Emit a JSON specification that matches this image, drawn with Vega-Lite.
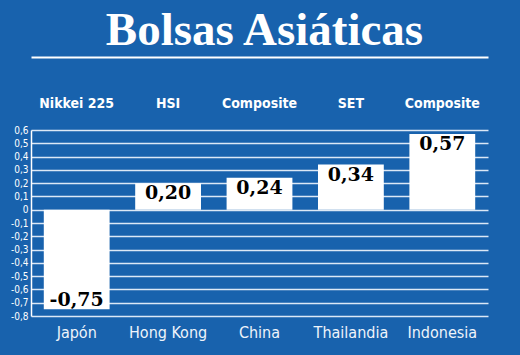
{
  "$schema": "https://vega.github.io/schema/vega-lite/v6.json",
  "width": 457,
  "height": 186,
  "autosize": {"type": "none"},
  "padding": {"left": 31, "top": 130, "right": 32, "bottom": 39},
  "background": "#1862ad",
  "title": {
    "text": "Bolsas Asiáticas",
    "font": "Liberation Serif",
    "fontSize": 47,
    "fontWeight": "bold",
    "color": "white",
    "anchor": "middle",
    "offset": 2,
    "dx": 5
  },
  "config": {
    "view": {"stroke": null},
    "locale": {"number": {"decimal": ",", "thousands": ".", "grouping": [3], "currency": ["", " €"], "minus": "-"}}
  },
  "data": {
    "values": [
      {"pais": "Japón", "indice": "Nikkei 225", "v": -0.75},
      {"pais": "Hong Kong", "indice": "HSI", "v": 0.20},
      {"pais": "China", "indice": "Composite", "v": 0.24},
      {"pais": "Thailandia", "indice": "SET", "v": 0.34},
      {"pais": "Indonesia", "indice": "Composite", "v": 0.57}
    ]
  },
  "resolve": {"axis": {"x": "independent"}},
  "encoding": {
    "y": {
      "field": "v",
      "type": "quantitative",
      "scale": {"domain": [-0.8, 0.6], "nice": false, "zero": false},
      "axis": {
        "values": [-0.8, -0.7, -0.6, -0.5, -0.4, -0.3, -0.2, -0.1, 0, 0.1, 0.2, 0.3, 0.4, 0.5, 0.6],
        "format": ".1f",
        "labelExpr": "datum.value == 0 ? '0' : replace(replace(datum.label, '.', ','), '\u2212', '-')",
        "grid": true,
        "gridColor": "#dbe8f6",
        "gridWidth": 1.3,
        "domain": true,
        "domainColor": "white",
        "domainWidth": 1.5,
        "ticks": false,
        "labelPadding": 3,
        "labelColor": "white",
        "labelFont": "DejaVu Sans Condensed, Roboto, sans-serif",
        "labelFontSize": 10,
        "title": null
      }
    }
  },
  "layer": [
    {
      "mark": {"type": "bar", "color": "white"},
      "encoding": {
        "x": {
          "field": "pais",
          "type": "nominal",
          "sort": null,
          "scale": {"paddingInner": 0.28, "paddingOuter": 0.14},
          "axis": {
            "orient": "bottom",
            "domain": false,
            "ticks": false,
            "labelPadding": 8,
            "labelAngle": 0,
            "labelFont": "DejaVu Sans Condensed, Roboto, sans-serif",
            "labelFontSize": 16,
            "labelColor": "#eef4fb",
            "labelOverlap": false,
            "title": null
          }
        }
      }
    },
    {
      "transform": [{"filter": "datum.v >= 0"}],
      "mark": {"type": "text", "baseline": "middle", "dy": 10, "font": "DejaVu Serif", "fontWeight": "bold", "fontSize": 19, "color": "black"},
      "encoding": {
        "x": {
          "field": "pais",
          "type": "nominal",
          "sort": null,
          "axis": {
            "orient": "top",
            "offset": 73,
            "domain": true,
            "domainColor": "white",
            "domainWidth": 2,
            "ticks": false,
            "grid": false,
            "labelPadding": -46,
            "labelBaseline": "middle",
            "labelAngle": 0,
            "labelFont": "DejaVu Sans Condensed, Roboto, sans-serif",
            "labelFontWeight": "bold",
            "labelFontSize": 14,
            "labelColor": "white",
            "labelOverlap": false,
            "labelExpr": "datum.value == 'Japón' ? 'Nikkei 225' : datum.value == 'Hong Kong' ? 'HSI' : datum.value == 'Thailandia' ? 'SET' : 'Composite'",
            "title": null
          }
        },
        "text": {"field": "v", "type": "quantitative", "format": ".2f"}
      }
    },
    {
      "transform": [{"filter": "datum.v < 0"}],
      "mark": {"type": "text", "baseline": "middle", "dy": -9, "font": "DejaVu Serif", "fontWeight": "bold", "fontSize": 19, "color": "black"},
      "encoding": {
        "x": {"field": "pais", "type": "nominal", "sort": null, "axis": null},
        "text": {"field": "v", "type": "quantitative", "format": ".2f"}
      }
    }
  ]
}
